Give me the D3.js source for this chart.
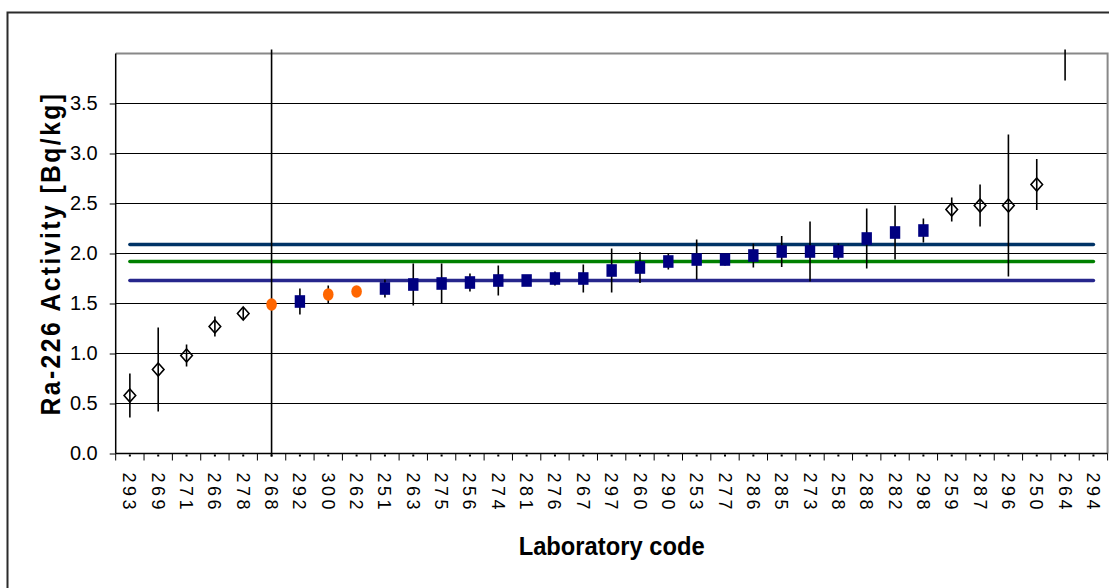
<!DOCTYPE html>
<html>
<head>
<meta charset="utf-8">
<script src="https://cdn.jsdelivr.net/npm/d3@7"></script>
<style>
  html, body { margin: 0; padding: 0; background: #fff; }
  svg { display: block; }
  text { font-family: "Liberation Sans", Arial, sans-serif; fill: #000; }
</style>
</head>
<body>
<svg id="chart" width="1109" height="588"></svg>
<script>
// Laboratory codes, in ranked order along the x axis
const labs = ["293","269","271","266","278","268","292","300","262","251","263","275","256","274","281","276","267","297","260","290","253","277","286","285","273","258","288","282","298","259","287","296","250","264","294"];
// Reported Ra-226 activity [Bq/kg] (null = not reported)
const activity = [0.58,0.84,0.98,1.27,1.40,1.49,1.52,1.59,1.62,1.65,1.69,1.70,1.71,1.73,1.73,1.75,1.75,1.83,1.86,1.92,1.94,1.94,1.98,2.02,2.02,2.02,2.15,2.21,2.23,2.44,2.48,2.48,2.69,4.60,null];
// Reported uncertainty (half-length of the error bar)
const uncertainty = [0.22,0.42,0.11,0.10,0.06,2.60,0.13,0.09,0.02,0.09,0.21,0.20,0.09,0.15,0.02,0.07,0.14,0.22,0.155,0.08,0.20,0.06,0.12,0.155,0.30,0.08,0.30,0.27,0.12,0.12,0.21,0.71,0.255,0.87,null];
// Evaluation class of each result: "d" outlier (open diamond), "c" questionable (orange dot), "s" accepted (navy square)
const resultClass = ["d","d","d","d","d","c","s","c","c","s","s","s","s","s","s","s","s","s","s","s","s","s","s","s","s","s","s","s","s","d","d","d","d","d",null];
// Reference value and its limits [Bq/kg]
const refLevels = [2.09, 1.92, 1.73];
const refColors = ["#003366", "#008000", "#26268c"];
const yTicks = [0, 0.5, 1.0, 1.5, 2.0, 2.5, 3.0, 3.5];

const svg = d3.select("#chart");
const W = 1109, H = 588;
const plot = { left: 115.7, right: 1107.6, top: 53.5, bottom: 453.5 };

svg.append("rect").attr("width", W).attr("height", H).attr("fill", "#fff");

// outer chart frame
svg.append("rect")
  .attr("x", 7.5).attr("y", 12.5)
  .attr("width", W + 20).attr("height", H + 20)
  .attr("fill", "none").attr("stroke", "#2b2b2b").attr("stroke-width", 2);

const x = d3.scaleBand().domain(labs).range([plot.left, plot.right]).padding(0);
const y = d3.scaleLinear().domain([0, 4]).range([plot.bottom, plot.top]);
const cx = d => x(d) + x.bandwidth() / 2;

// horizontal gridlines
svg.append("g").selectAll("line")
  .data(yTicks.filter(v => v > 0))
  .join("line")
  .attr("x1", plot.left).attr("x2", plot.right)
  .attr("y1", d => y(d)).attr("y2", d => y(d))
  .attr("stroke", "#000").attr("stroke-width", 1);

// plot area border (top and right)
svg.append("path")
  .attr("d", `M${plot.left},${y(4)}H${plot.right}V${plot.bottom}`)
  .attr("fill", "none").attr("stroke", "#888").attr("stroke-width", 2);

// y axis
const yAxis = d3.axisLeft(y).tickValues(yTicks).tickFormat(d3.format(".1f")).tickSize(6).tickPadding(12);
const gy = svg.append("g").attr("transform", `translate(${plot.left},0)`).call(yAxis);
gy.select(".domain").attr("d", `M0,${y(4)}V${plot.bottom}`).attr("stroke", "#000").attr("stroke-width", 1.5);
gy.selectAll(".tick line").attr("stroke", "#000");
gy.selectAll(".tick text").attr("font-size", 20).attr("font-family", "Liberation Sans, Arial, sans-serif");

// x axis: ticks between categories
const gx = svg.append("g").attr("transform", `translate(0,${plot.bottom})`);
gx.append("line").attr("x1", plot.left).attr("x2", plot.right).attr("stroke", "#000").attr("stroke-width", 1.5);
const bounds = labs.map(l => x(l)).concat([plot.right]);
gx.selectAll("line.sep").data(bounds).join("line").attr("class", "sep")
  .attr("x1", d => d).attr("x2", d => d).attr("y1", 0).attr("y2", 7)
  .attr("stroke", "#000").attr("stroke-width", 1);
gx.selectAll("rect.mk").data(labs).join("rect").attr("class", "mk")
  .attr("x", d => cx(d) - 1).attr("y", 1).attr("width", 2).attr("height", 2).attr("fill", "#000");
gx.selectAll("text").data(labs).join("text")
  .attr("transform", d => `translate(${cx(d)},19) rotate(90)`)
  .attr("dy", "0.36em")
  .attr("font-size", 18)
  .attr("letter-spacing", 3.5)
  .text(d => d);

// axis titles
svg.append("text")
  .attr("transform", `translate(60,${(plot.top + plot.bottom) / 2}) rotate(-90) scale(0.88,1)`)
  .attr("text-anchor", "middle")
  .attr("font-size", 28).attr("font-weight", "bold")
  .attr("letter-spacing", 2.8)
  .text("Ra-226 Activity [Bq/kg]");

svg.append("text")
  .attr("transform", `translate(${(plot.left + plot.right) / 2},555) scale(0.95,1)`)
  .attr("text-anchor", "middle")
  .attr("font-size", 25).attr("font-weight", "bold")
  .text("Laboratory code");

// reference lines spanning first to last category
svg.append("g").selectAll("line")
  .data(refLevels)
  .join("line")
  .attr("x1", cx(labs[0])).attr("x2", cx(labs[labs.length - 1]))
  .attr("y1", d => y(d)).attr("y2", d => y(d))
  .attr("stroke", (d, i) => refColors[i]).attr("stroke-width", 3.5)
  .attr("stroke-linecap", "round");

// clip for marks running past the plot area
svg.append("clipPath").attr("id", "markclip")
  .append("rect")
  .attr("x", plot.left).attr("y", y(4.04))
  .attr("width", plot.right - plot.left).attr("height", y(-0.03) - y(4.04));

const pts = labs.map((l, i) => ({ lab: l, v: activity[i], u: uncertainty[i], c: resultClass[i] }))
  .filter(d => d.v != null);

const marks = svg.append("g").attr("clip-path", "url(#markclip)");

// error bars
marks.selectAll("line.err").data(pts).join("line").attr("class", "err")
  .attr("x1", d => cx(d.lab)).attr("x2", d => cx(d.lab))
  .attr("y1", d => y(d.v + d.u)).attr("y2", d => y(d.v - d.u))
  .attr("stroke", "#000").attr("stroke-width", 1.6);

// open diamonds
marks.selectAll("path.dia").data(pts.filter(d => d.c === "d")).join("path").attr("class", "dia")
  .attr("d", d => {
    const px = cx(d.lab), py = y(d.v);
    return `M${px},${py - 6.5}L${px + 5.8},${py}L${px},${py + 6.5}L${px - 5.8},${py}Z`;
  })
  .attr("fill", "none").attr("stroke", "#000").attr("stroke-width", 1.6);

// orange dots
marks.selectAll("ellipse").data(pts.filter(d => d.c === "c")).join("ellipse")
  .attr("cx", d => cx(d.lab)).attr("cy", d => y(d.v))
  .attr("rx", 5.3).attr("ry", 6.2)
  .attr("fill", "#ff6600");

// navy squares
marks.selectAll("rect.sq").data(pts.filter(d => d.c === "s")).join("rect").attr("class", "sq")
  .attr("x", d => cx(d.lab) - 5.2).attr("y", d => y(d.v) - 6.3)
  .attr("width", 10.4).attr("height", 12.6)
  .attr("fill", "#000080");
</script>
</body>
</html>
